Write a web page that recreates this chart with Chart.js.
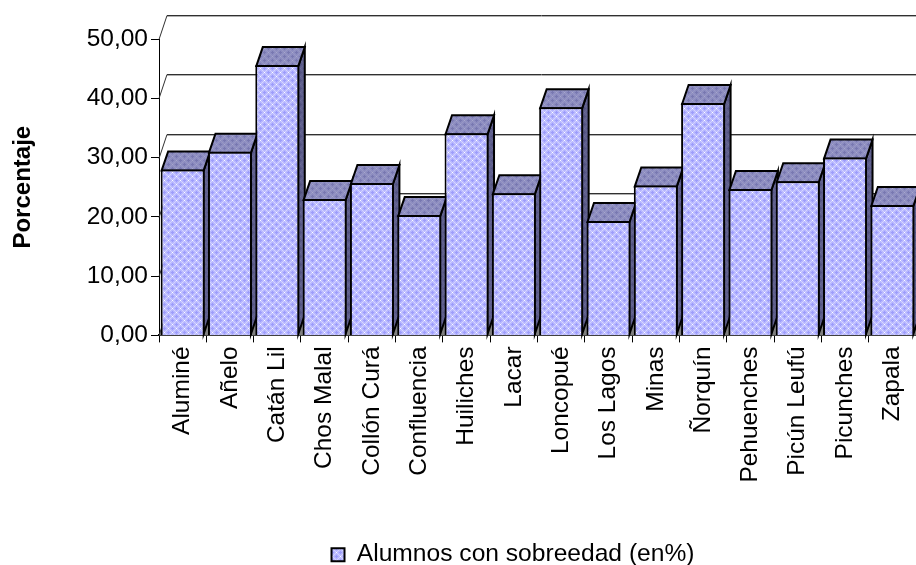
<!DOCTYPE html>
<html><head><meta charset="utf-8">
<style>html,body{margin:0;padding:0;background:#fff}#wrap{width:916px;height:565px}</style>
<script src="https://cdn.jsdelivr.net/npm/chart.js@4"></script>
</head><body><div id="wrap"><canvas id="c" width="916" height="565"></canvas></div>
<script>
const categories = ["Aluminé","Añelo","Catán Lil","Chos Malal","Collón Curá","Confluencia","Huiliches","Lacar","Loncopué","Los Lagos","Minas","Ñorquín","Pehuenches","Picún Leufú","Picunches","Zapala"];
const values = [28.0,31.0,45.6,23.0,25.7,20.3,34.1,24.0,38.5,19.3,25.3,39.2,24.7,26.0,30.0,22.0];
const seriesName = "Alumnos con sobreedad (en%)";
const axisTitle = "Porcentaje";
const FONT = "'Liberation Sans', Arial, sans-serif";

function makePattern(base, light, pale, dark){
  const t = document.createElement('canvas'); t.width = 8; t.height = 8;
  const g = t.getContext('2d');
  g.fillStyle = base; g.fillRect(0,0,8,8);
  g.fillStyle = pale;
  [[2,2],[6,2],[2,6],[6,6],[1,1],[3,3],[5,5],[7,7],[5,3],[3,5],[7,1],[1,7]].forEach(p=>g.fillRect(p[0],p[1],1,1));
  g.fillStyle = light;
  [[0,0],[4,4]].forEach(p=>g.fillRect(p[0],p[1],1,1));
  g.fillStyle = dark;
  [[4,0],[3,0],[5,0],[4,1],[4,7],[0,4],[7,4],[1,4],[0,3],[0,5]].forEach(p=>g.fillRect(p[0],p[1],1,1));
  return g.createPattern(t,'repeat');
}
const frontFill = makePattern('#b8b8ff','#ffffff','#d4d4ff','#9c9cfb');
const topFill = makePattern('#8c8cc0','#a8a8cc','#9898c4','#7878b0');
const sideFill = makePattern('#5e5e8c','#6e6e98','#666692','#525280');

const DX = 6.5, DY = -19, WX = 8, WY = -24;
const threeD = {
  id:'threeD',
  afterLayout(chart){
    const l = chart.legend; if(l){ l.left += 55; l.right += 55; l.top += 12; l.bottom += 12; }
  },
  beforeDatasetsDraw(chart){
    const c = chart.ctx, y = chart.scales.y, a = chart.chartArea;
    c.save();
    const y0 = y.getPixelForValue(0);
    c.fillStyle = '#808080';
    c.beginPath(); c.moveTo(a.left,y0); c.lineTo(a.left+WX,y0+WY); c.lineTo(a.right,y0+WY); c.lineTo(a.right,y0); c.closePath(); c.fill();
    y.ticks.forEach(t=>{
      const p = Math.round(y.getPixelForValue(t.value))+.5;
      c.strokeStyle='#b0b0b0'; c.lineWidth=1;
      c.beginPath(); c.moveTo(a.left+WX,p+WY+1); c.lineTo(a.right,p+WY+1); c.stroke();
      c.strokeStyle='#303030';
      c.beginPath(); c.moveTo(a.left,p); c.lineTo(a.left+WX,p+WY); c.lineTo(a.right,p+WY); c.stroke();
    });
    c.lineWidth = 2; c.strokeStyle = '#000'; c.lineJoin='miter';
    chart.getDatasetMeta(0).data.forEach(b=>{
      const h = b.width/2, L = b.x-h+1, R = b.x+h-1, T = b.y+1, B = b.base-1;
      c.fillStyle = sideFill;
      c.beginPath(); c.moveTo(R,T); c.lineTo(R+DX,T+DY); c.lineTo(R+DX,B+DY); c.lineTo(R,B); c.closePath(); c.fill(); c.stroke();
      c.fillStyle = topFill;
      c.beginPath(); c.moveTo(L,T); c.lineTo(L+DX,T+DY); c.lineTo(R+DX,T+DY); c.lineTo(R,T); c.closePath(); c.fill(); c.stroke();
    });
    c.restore();
  }
};

new Chart(document.getElementById('c'), {
  type:'bar',
  data:{labels:categories,datasets:[{label:seriesName,data:values,backgroundColor:frontFill,borderColor:'#000',borderWidth:2,barPercentage:0.93,categoryPercentage:1}]},
  plugins:[threeD],
  options:{
    responsive:false,animation:false,events:[],
    layout:{padding:{top:39,bottom:0,left:0,right:0}},
    plugins:{
      tooltip:{enabled:false},
      legend:{position:'bottom',labels:{color:'#000',font:{family:FONT,size:24.6},boxWidth:13,boxHeight:13,padding:8}}
    },
    scales:{
      x:{
        afterFit(s){s.height=187;s.paddingRight=0;s.paddingLeft=0;},
        grid:{drawOnChartArea:false,tickLength:7,color:'#000',offset:true},
        border:{color:'#000',width:2},
        ticks:{color:'#000',minRotation:90,maxRotation:90,autoSkip:false,padding:4,font:{family:FONT,size:24.5}}
      },
      y:{
        min:0,max:50,
        afterFit(s){s.width=159;},
        grid:{drawOnChartArea:false,tickLength:8,color:'#000'},
        border:{color:'#000',width:1},
        title:{display:true,text:axisTitle,color:'#000',font:{family:FONT,size:24,weight:'bold'},padding:{top:9,bottom:0}},
        ticks:{color:'#000',stepSize:10,padding:3,font:{family:FONT,size:24.5},callback:v=>v.toFixed(2).replace('.',',')}
      }
    }
  }
});
</script></body></html>
